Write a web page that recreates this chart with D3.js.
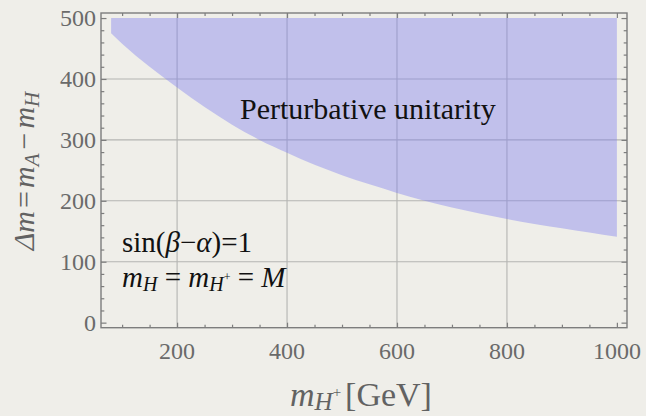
<!DOCTYPE html>
<html>
<head>
<meta charset="utf-8">
<script src="https://cdn.jsdelivr.net/npm/d3@7/dist/d3.min.js"></script>
<style>
  html, body { margin: 0; padding: 0; background: #efeee9; }
  svg { display: block; }
  text { font-family: "Liberation Serif", "Times New Roman", serif; }
</style>
</head>
<body>
<svg id="chart" width="646" height="416"></svg>
<script>
// Charged Higgs mass [GeV] sampled along the unitarity boundary
const chargedHiggsMass = [80, 100, 150, 200, 250, 300, 350, 400, 450, 500,
                          550, 600, 650, 700, 750, 800, 850, 900, 950, 1000];
// Largest allowed mass splitting Δm = m_A − m_H [GeV] at each mass
const deltaMaxAllowed  = [475, 458, 420, 386, 354, 325, 300, 279, 259, 242,
                          227, 213, 200, 189, 179, 170, 162, 155, 148, 141];
// Upper edge of the scanned Δm range
const deltaScanTop = 500;

const xTickValues = [200, 400, 600, 800, 1000];
const yTickValues = [0, 100, 200, 300, 400, 500];
const xMinorValues = d3.range(100, 1001, 50).filter(v => v % 200 !== 0);
const yMinorValues = d3.range(0, 501, 20).filter(v => v % 100 !== 0);
const xGridValues = [200, 400, 600, 800];
const yGridValues = [100, 200, 300, 400];

const svg = d3.select("#chart");
const frame = { left: 101, right: 627, top: 13, bottom: 327.7 };

const x = d3.scaleLinear().domain([61.6, 1018.4]).range([frame.left, frame.right]);
const y = d3.scaleLinear().domain([-8.3, 508.3]).range([frame.bottom, frame.top]);

const points = chargedHiggsMass.map((m, i) => ({ m, dm: deltaMaxAllowed[i] }));

// grid lines
const grid = svg.append("g").attr("stroke", "#b4b4b2").attr("stroke-width", 1.1);
grid.selectAll("line.gx").data(xGridValues).join("line")
  .attr("x1", d => x(d)).attr("x2", d => x(d))
  .attr("y1", frame.top).attr("y2", frame.bottom);
grid.selectAll("line.gy").data(yGridValues).join("line")
  .attr("x1", frame.left).attr("x2", frame.right)
  .attr("y1", d => y(d)).attr("y2", d => y(d));

// excluded region: above the unitarity boundary
const area = d3.area()
  .x(d => x(d.m))
  .y0(() => y(deltaScanTop))
  .y1(d => y(d.dm))
  .curve(d3.curveMonotoneX);
svg.append("path")
  .datum(points)
  .attr("d", area)
  .attr("fill", "rgb(128,128,238)")
  .attr("fill-opacity", 0.42);

// frame with inward ticks on all four sides
const axisColor = "#7d7d7d";
const bottomAxis = d3.axisBottom(x).tickValues(xTickValues).tickSizeInner(-5).tickSizeOuter(0).tickFormat("");
const topAxis = d3.axisTop(x).tickValues(xTickValues).tickSizeInner(-5).tickSizeOuter(0).tickFormat("");
const leftAxis = d3.axisLeft(y).tickValues(yTickValues).tickSizeInner(-5.5).tickSizeOuter(0).tickFormat("");
const rightAxis = d3.axisRight(y).tickValues(yTickValues).tickSizeInner(-5.5).tickSizeOuter(0).tickFormat("");
const bottomMinor = d3.axisBottom(x).tickValues(xMinorValues).tickSizeInner(-3).tickSizeOuter(0).tickFormat("");
const topMinor = d3.axisTop(x).tickValues(xMinorValues).tickSizeInner(-3).tickSizeOuter(0).tickFormat("");
const leftMinor = d3.axisLeft(y).tickValues(yMinorValues).tickSizeInner(-3.3).tickSizeOuter(0).tickFormat("");
const rightMinor = d3.axisRight(y).tickValues(yMinorValues).tickSizeInner(-3.3).tickSizeOuter(0).tickFormat("");

function drawAxis(axis, transform) {
  const g = svg.append("g").attr("transform", transform).call(axis);
  g.select(".domain").remove();
  g.selectAll(".tick line").attr("stroke", axisColor).attr("stroke-width", 1.2);
  return g;
}
drawAxis(bottomAxis, `translate(0,${frame.bottom})`);
drawAxis(bottomMinor, `translate(0,${frame.bottom})`);
drawAxis(topAxis, `translate(0,${frame.top})`);
drawAxis(topMinor, `translate(0,${frame.top})`);
drawAxis(leftAxis, `translate(${frame.left},0)`);
drawAxis(leftMinor, `translate(${frame.left},0)`);
drawAxis(rightAxis, `translate(${frame.right},0)`);
drawAxis(rightMinor, `translate(${frame.right},0)`);

svg.append("rect")
  .attr("x", frame.left).attr("y", frame.top)
  .attr("width", frame.right - frame.left).attr("height", frame.bottom - frame.top)
  .attr("fill", "none").attr("stroke", axisColor).attr("stroke-width", 1.4);

// tick labels
const labelColor = "#6a6a6a";
svg.append("g").selectAll("text").data(xTickValues).join("text")
  .attr("x", d => x(d)).attr("y", 359)
  .attr("text-anchor", "middle")
  .attr("font-size", 24).attr("fill", labelColor)
  .text(d => d);
svg.append("g").selectAll("text").data(yTickValues).join("text")
  .attr("x", 96).attr("y", d => y(d) + 8)
  .attr("text-anchor", "end")
  .attr("font-size", 24).attr("fill", labelColor)
  .text(d => d);

// x axis title: m_{H+} [GeV]
const xt = svg.append("text").attr("x", 290).attr("y", 406)
  .attr("font-size", 34).attr("fill", "#626262");
xt.append("tspan").attr("font-style", "italic").text("m");
xt.append("tspan").attr("font-style", "italic").attr("font-size", 25).attr("dy", 4).text("H");
xt.append("tspan").attr("font-size", 15).attr("dy", -13).text("+");
xt.append("tspan").attr("dy", 9).attr("dx", 4).text("[GeV]");

// y axis title: Δm = m_A − m_H
const yt = svg.append("text")
  .attr("transform", "translate(34,171) rotate(-90)")
  .attr("text-anchor", "middle")
  .attr("font-size", 30).attr("fill", "#626262");
yt.append("tspan").attr("font-style", "italic").text("Δm");
yt.append("tspan").attr("dx", 3).text("=");
yt.append("tspan").attr("dx", 3).attr("font-style", "italic").text("m");
yt.append("tspan").attr("font-style", "italic").attr("font-size", 21).attr("dy", 5).text("A");
yt.append("tspan").attr("dx", 4).attr("dy", -5).text("−");
yt.append("tspan").attr("dx", 4).attr("font-style", "italic").text("m");
yt.append("tspan").attr("font-style", "italic").attr("font-size", 21).attr("dy", 5).text("H");

// region label
svg.append("text").attr("x", 240).attr("y", 119)
  .attr("font-size", 30).attr("fill", "#111")
  .text("Perturbative unitarity");

// benchmark assumptions
const s1 = svg.append("text").attr("x", 122).attr("y", 252)
  .attr("font-size", 29).attr("fill", "#111");
s1.append("tspan").text("sin(");
s1.append("tspan").attr("font-style", "italic").text("β");
s1.append("tspan").text("−");
s1.append("tspan").attr("font-style", "italic").text("α");
s1.append("tspan").text(")=1");

const s2 = svg.append("text").attr("x", 122).attr("y", 287)
  .attr("font-size", 29).attr("fill", "#111");
s2.append("tspan").attr("font-style", "italic").text("m");
s2.append("tspan").attr("font-style", "italic").attr("font-size", 20).attr("dy", 4).text("H");
s2.append("tspan").attr("dy", -4).text(" = ");
s2.append("tspan").attr("font-style", "italic").text("m");
s2.append("tspan").attr("font-style", "italic").attr("font-size", 20).attr("dy", 4).text("H");
s2.append("tspan").attr("font-size", 12).attr("dy", -10).text("+");
s2.append("tspan").attr("dy", 6).text(" = ");
s2.append("tspan").attr("font-style", "italic").text("M");
</script>
</body>
</html>
